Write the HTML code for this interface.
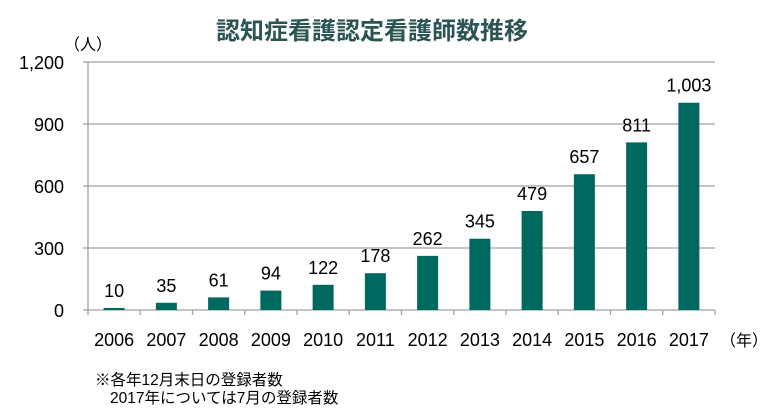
<!DOCTYPE html>
<html><head><meta charset="utf-8"><style>
body{margin:0;background:#fff;width:768px;height:413px;overflow:hidden;font-family:"Liberation Sans","Noto Sans CJK JP",sans-serif}
svg text{font-family:"Liberation Sans","Noto Sans CJK JP",sans-serif}
</style></head><body>
<svg id="c" width="768" height="413">
<text x="372" y="39" text-anchor="middle" font-size="24" font-weight="bold" fill="#2b5553">認知症看護認定看護師数推移</text>
<text x="64" y="50" font-size="16" fill="#000">（人）</text>
<text x="720" y="346" font-size="16" fill="#000">（年）</text>
<text x="95" y="385" font-size="15.5" fill="#000">※各年12月末日の登録者数</text>
<text x="110" y="403" font-size="15.5" fill="#000">2017年については7月の登録者数</text>
<g id="grid"></g><g id="bars"></g>
</svg>
<script>
const categories=["2006","2007","2008","2009","2010","2011","2012","2013","2014","2015","2016","2017"];
const values=[10,35,61,94,122,178,262,345,479,657,811,1003];
const valueLabels=["10","35","61","94","122","178","262","345","479","657","811","1,003"];
const yTicks=[0,300,600,900,1200];
const yTickLabels=["0","300","600","900","1,200"];
const NS="http://www.w3.org/2000/svg";
const x0=88,x1=715,y0=310,y1=62,yMax=1200;
const bw=(x1-x0)/categories.length;
const y=v=>y0-(v/yMax)*(y0-y1);
const xc=i=>x0+bw*(i+0.5);
function mk(t,a,p){const e=document.createElementNS(NS,t);for(const k in a)e.setAttribute(k,a[k]);p.appendChild(e);return e;}
const g=document.getElementById('grid'),b=document.getElementById('bars');
yTicks.forEach((t,i)=>{
 const l=mk('line',{x1:x0-5,x2:x1,y1:y(t),y2:y(t),stroke:'#a0a0a0','stroke-width':1.3},g);
 
 
 const tx=mk('text',{x:x0-24,y:y(t)+7,'text-anchor':'end','font-size':18,fill:'#000'},g);
 tx.textContent=yTickLabels[i];
 
 
});
const ax=mk('line',{x1:x0,x2:x0,y1:y1,y2:y0,stroke:'#a0a0a0','stroke-width':1.3},g);


for(let i=0;i<=categories.length;i++){
 const tk=mk('line',{x1:x0+bw*i,x2:x0+bw*i,y1:y0,y2:y0+5,stroke:'#a0a0a0','stroke-width':1.3},g);
 
 
}
categories.forEach((c,i)=>{
 const r=mk('rect',{x:xc(i)-10.5,y:y(values[i]),width:21,height:y0-y(values[i]),fill:'#00695f'},b);
 
 
 const vl=mk('text',{x:xc(i),y:y(values[i])-11,'text-anchor':'middle','font-size':18,fill:'#000'},b);
 vl.textContent=valueLabels[i];
 
 
 const xl=mk('text',{x:xc(i),y:346,'text-anchor':'middle','font-size':18,fill:'#000'},b);
 xl.textContent=c;
 
 
});
</script>
</body></html>
